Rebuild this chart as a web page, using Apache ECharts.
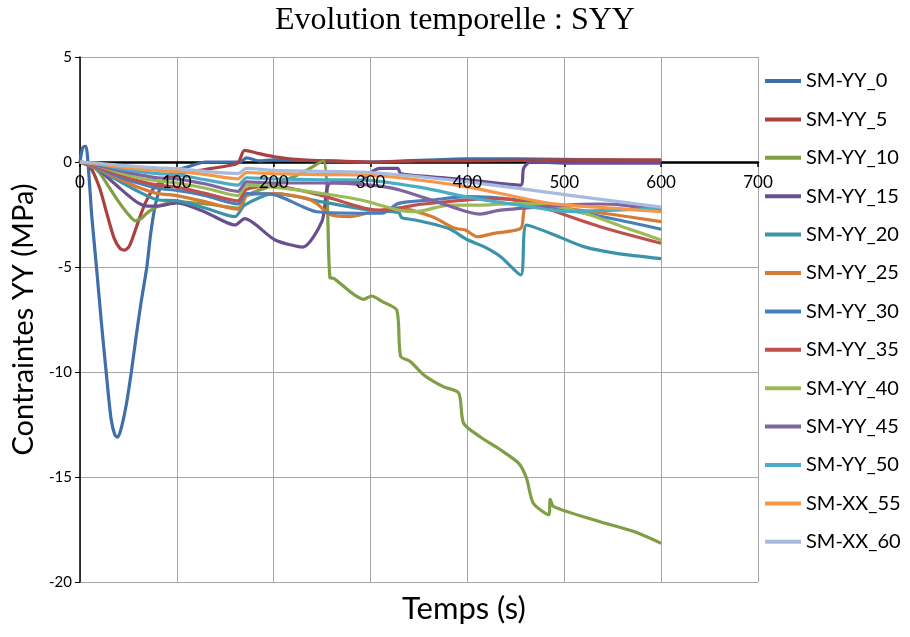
<!DOCTYPE html>
<html><head><meta charset="utf-8">
<script src="https://cdn.jsdelivr.net/npm/echarts@6/dist/echarts.min.js"></script>
<style>html,body{margin:0;padding:0;background:#fff}#c{width:910px;height:637px}</style>
</head><body><div id="c"></div>
<script>
const seriesNames = ['SM-YY_0','SM-YY_5','SM-YY_10','SM-YY_15','SM-YY_20','SM-YY_25','SM-YY_30','SM-YY_35','SM-YY_40','SM-YY_45','SM-YY_50','SM-XX_55','SM-XX_60'];
const xTicks = [0,100,200,300,400,500,600,700];
const yTicks = [-20,-15,-10,-5,0,5];

const t_YY_0 = [0,3,6,9,12,17,22,27,32,36,39,43,48,53,58,63,69,73,78,85,95,110,130,165,172,185,200,300,400,450,600];
const v_YY_0 = [0,0.7,0.75,-0.5,-2.5,-5,-7.6,-10,-12.2,-13,-13.1,-12.6,-11.5,-10,-8.3,-6.7,-5,-3.4,-2.0,-1.0,-0.5,-0.25,0,0,0.2,0.05,0.1,0,0.15,0.15,0.05];

const t_YY_5 = [0,10,20,28,35,41,46,51,56,62,68,77,90,110,126,150,163,170,185,201,230,260,300,350,400,500,600];
const v_YY_5 = [0,-0.2,-1.2,-2.5,-3.6,-4.1,-4.2,-4.0,-3.4,-2.6,-1.9,-1.2,-0.8,-0.5,-0.38,-0.2,-0.05,0.55,0.4,0.25,0.1,0.05,0,0.05,0.05,0.1,0.1];

const t_YY_10 = [0,10,20,30,40,50,57,63,70,81,98,130,165,172,200,230,251,258,262,293,301,312,327,331,341,355,375,391,396,413,434,453,461,468,484,485.5,489,537,572,600];
const v_YY_10 = [0,-0.1,-0.5,-1.2,-1.9,-2.5,-2.8,-2.7,-2.4,-2.1,-1.9,-2.0,-2.2,-1.6,-1.1,-0.5,0.06,-5.5,-5.54,-6.54,-6.38,-6.65,-7.05,-9.24,-9.5,-10.14,-10.7,-11.0,-12.44,-13.08,-13.7,-14.35,-15.06,-16.25,-16.8,-16.06,-16.41,-17.13,-17.6,-18.16];

const t_YY_15 = [0,10,20,30,40,50,60,70,80,100,130,160,170,201,230,250,258,290,300,310,328,331,360,400,455,458,465,500,600];
const v_YY_15 = [0,-0.1,-0.4,-0.8,-1.2,-1.6,-1.95,-2.1,-2.1,-1.95,-2.4,-3.0,-2.7,-3.7,-4.05,-2.8,-1.0,-0.9,-0.5,-0.3,-0.3,-0.55,-0.7,-0.85,-1.1,-0.3,0,-0.05,-0.05];

const t_YY_20 = [0,20,40,60,80,101,130,160,170,201,250,300,329,332,346,380,400,417,434,455,461,486,520,554,600];
const v_YY_20 = [0,-0.4,-0.9,-1.4,-1.8,-1.85,-2.2,-2.6,-2.05,-1.5,-1.9,-2.3,-2.4,-2.65,-2.76,-3.16,-3.7,-4.03,-4.5,-5.38,-3.0,-3.4,-4.03,-4.35,-4.6];

const t_YY_25 = [0,20,40,60,80,100,130,163,172,200,234,245,258,279,300,329,363,387,398,410,427,455,458,461,500,550,600];
const v_YY_25 = [0,-0.35,-0.8,-1.2,-1.5,-1.6,-1.9,-2.25,-1.6,-1.5,-1.73,-2.0,-2.5,-2.6,-2.4,-2.2,-2.6,-3.16,-3.24,-3.56,-3.4,-3.16,-2.44,-1.97,-2.2,-2.5,-2.84];

const t_YY_30 = [0,20,40,60,80,100,130,163,172,200,230,244,294,312,329,363,400,450,486,550,600];
const v_YY_30 = [0,-0.3,-0.7,-1.0,-1.25,-1.35,-1.6,-2.0,-1.5,-1.55,-2.13,-2.37,-2.44,-2.44,-1.97,-1.81,-1.65,-1.8,-2.13,-2.7,-3.2];

const t_YY_35 = [0,20,40,60,80,100,130,163,172,200,250,294,315,346,380,400,430,460,486,537,600];
const v_YY_35 = [0,-0.25,-0.6,-0.9,-1.1,-1.2,-1.5,-1.85,-1.3,-1.15,-1.6,-2.2,-2.29,-2.05,-1.89,-1.8,-1.75,-1.9,-2.29,-3.08,-3.87];

const t_YY_40 = [0,20,40,60,80,100,130,163,172,200,250,289,329,346,382,416,451,490,525,560,600];
const v_YY_40 = [0,-0.2,-0.5,-0.75,-0.9,-1.0,-1.25,-1.6,-1.1,-1.2,-1.5,-1.8,-2.29,-2.37,-2.05,-2.05,-1.97,-2.1,-2.5,-3.08,-3.71];

const t_YY_45 = [0,20,40,60,80,100,130,163,172,200,250,300,330,400,413,434,503,534,560,600];
const v_YY_45 = [0,-0.18,-0.4,-0.6,-0.75,-0.8,-1.05,-1.4,-0.95,-1.0,-1.0,-1.1,-1.33,-2.37,-2.48,-2.29,-2.05,-2.0,-2.05,-2.3];

const t_YY_50 = [0,20,40,60,80,100,130,163,172,200,250,294,350,398,430,460,500,555,600];
const v_YY_50 = [0,-0.12,-0.3,-0.45,-0.55,-0.6,-0.85,-1.1,-0.75,-0.8,-0.85,-0.86,-1.2,-1.65,-1.9,-2.1,-2.35,-2.29,-2.2];

const t_XX_55 = [0,20,40,60,80,100,130,163,172,200,250,294,398,485,550,600];
const v_XX_55 = [0,-0.1,-0.22,-0.33,-0.4,-0.45,-0.6,-0.8,-0.5,-0.55,-0.6,-0.62,-1.17,-1.97,-2.2,-2.37];

const t_XX_60 = [0,20,40,60,80,100,130,163,172,200,300,400,500,600];
const v_XX_60 = [0,-0.06,-0.15,-0.22,-0.28,-0.32,-0.45,-0.55,-0.3,-0.4,-0.5,-0.95,-1.55,-2.15];

const allT = [t_YY_0,t_YY_5,t_YY_10,t_YY_15,t_YY_20,t_YY_25,t_YY_30,t_YY_35,t_YY_40,t_YY_45,t_YY_50,t_XX_55,t_XX_60];
const allV = [v_YY_0,v_YY_5,v_YY_10,v_YY_15,v_YY_20,v_YY_25,v_YY_30,v_YY_35,v_YY_40,v_YY_45,v_YY_50,v_XX_55,v_XX_60];
const colors = ['#3F6EA9','#A9423F','#7F9E46','#6A4E8E','#3A93AA','#D67B33','#4A7EBB','#C0504D','#9BBB59','#8064A2','#4BACC6','#F79646','#A7BCDD'];

const series = seriesNames.map((n,i)=>({
  name:n, type:'line', showSymbol:false, symbol:'none', smooth:0.25, xAxisIndex:0,
  data: allT[i].map((t,j)=>[t, allV[i][j]]),
  lineStyle:{width:3.2, color:colors[i]}, itemStyle:{color:colors[i]}
}));

const xMin = xTicks[0], xMax = xTicks[xTicks.length-1];
const chart = echarts.init(document.getElementById('c'));
chart.setOption({
  animation:false,
  backgroundColor:'#fff',
  title:{text:'Evolution temporelle : SYY', left:'center', top:0,
    textStyle:{fontFamily:'Liberation Serif', fontSize:32, fontWeight:'normal', color:'#000'}},
  grid:{left:80, right:152, top:57, bottom:55},
  legend:{orient:'vertical', left:765, top:71, padding:0, itemWidth:36, itemHeight:4, itemGap:18.4, icon:'rect',
    textStyle:{fontFamily:'Lato', fontSize:20, lineHeight:20, color:'#000'}, data:seriesNames},
  xAxis:[
    {type:'value', min:xMin, max:xMax, interval:100, offset:-420, position:'bottom',
     axisLine:{onZero:false, lineStyle:{color:'#000', width:2.5}},
     axisTick:{show:true, length:5, lineStyle:{color:'#000', width:1.5}},
     axisLabel:{show:false},
     splitLine:{show:true, lineStyle:{color:'#A6A6A6', width:1}}},
    {type:'value', min:xMin, max:xMax, interval:100, offset:-420, position:'bottom', z:10,
     axisLine:{show:false, onZero:false}, axisTick:{show:false}, splitLine:{show:false},
     axisLabel:{fontFamily:'Lato', fontSize:17, color:'#000', margin:12}}
  ],
  yAxis:{type:'value', min:yTicks[0], max:yTicks[yTicks.length-1], interval:5,
    name:'Contraintes YY (MPa)', nameLocation:'middle', nameGap:40,
    nameTextStyle:{fontFamily:'Lato', fontSize:29, color:'#000'},
    axisLine:{show:true, onZero:false, lineStyle:{color:'#000', width:1.5}},
    axisTick:{show:true, length:5, lineStyle:{color:'#000'}},
    axisLabel:{fontFamily:'Lato', fontSize:15, color:'#000', margin:8},
    splitLine:{show:true, lineStyle:{color:'#A6A6A6', width:1}}},
  graphic:[{type:'text', left:402, top:593, style:{text:'Temps (s)', font:'31px Lato', fill:'#000'}}],
  series: series
});
</script></body></html>
